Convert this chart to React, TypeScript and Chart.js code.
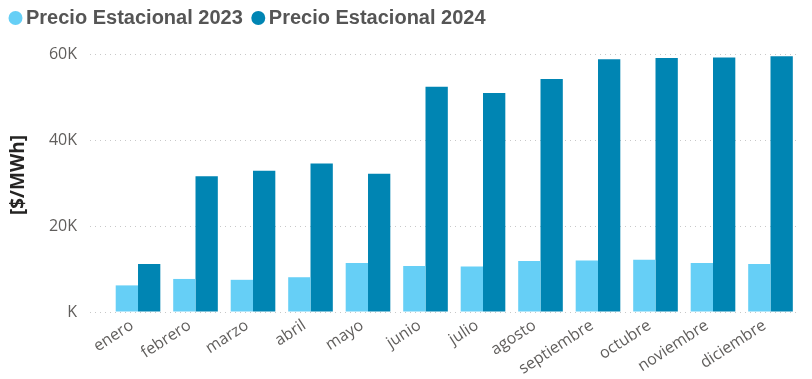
import React, { useEffect, useRef } from 'react';
import { Chart, registerables } from 'chart.js';

Chart.register(...registerables);

const months = ['enero', 'febrero', 'marzo', 'abril', 'mayo', 'junio', 'julio', 'agosto', 'septiembre', 'octubre', 'noviembre', 'diciembre'];
const precio2023 = [6200, 7700, 7500, 8100, 11400, 10700, 10600, 11900, 12000, 12200, 11400, 11200];
const precio2024 = [11200, 31600, 32900, 34600, 32200, 52500, 51000, 54300, 58900, 59200, 59300, 59600];
const seriesNames = ['Precio Estacional 2023', 'Precio Estacional 2024'];
const yTickValues = [0, 20000, 40000, 60000];
const yTickLabels = ['K', '20K', '40K', '60K'];
const yAxisTitle = '[$/MWh]';
const yMax = 63840;
const xMin = -0.835;
const xMax = 11.513;

const COLOR_2023 = '#66CFF6';
const COLOR_2024 = '#0085B3';
const TICK_COLOR = '#605E5C';

export default function App() {
  const ref = useRef<HTMLCanvasElement | null>(null);

  useEffect(() => {
    if (!ref.current) return;
    const chart = new Chart(ref.current, {
      type: 'bar',
      data: {
        datasets: [
          {
            label: seriesNames[0],
            data: precio2023.map((v, i) => ({ x: i, y: v })),
            backgroundColor: COLOR_2023,
            borderWidth: 0,
            categoryPercentage: 0.776,
            barPercentage: 1,
          },
          {
            label: seriesNames[1],
            data: precio2024.map((v, i) => ({ x: i, y: v })),
            backgroundColor: COLOR_2024,
            borderWidth: 0,
            categoryPercentage: 0.776,
            barPercentage: 1,
          },
        ],
      },
      options: {
        animation: false,
        responsive: false,
        maintainAspectRatio: false,
        layout: { padding: { top: -7, right: 12, left: 0, bottom: 0 } },
        plugins: {
          tooltip: { enabled: false },
          legend: {
            position: 'top',
            align: 'start',
            labels: {
              usePointStyle: true,
              pointStyle: 'circle',
              boxWidth: 1,
              boxHeight: 9.9,
              padding: 15,
              color: '#555555',
              font: { family: 'Liberation Sans', weight: 'bold', size: 20 },
            },
          },
        },
        scales: {
          x: {
            type: 'linear',
            min: xMin,
            max: xMax,
            offset: false,
            grid: { display: false, drawTicks: false },
            border: { display: false },
            afterBuildTicks: (axis: any) => {
              axis.ticks = months.map((_, i) => ({ value: i }));
            },
            afterFit: (axis: any) => {
              axis.height = 67;
            },
            ticks: {
              autoSkip: false,
              minRotation: 33,
              maxRotation: 33,
              labelOffset: -6,
              padding: 4,
              color: TICK_COLOR,
              font: { family: 'Open Sans', size: 16 },
              callback: (_v: any, i: number) => months[i],
            },
          },
          y: {
            min: 0,
            max: yMax,
            afterBuildTicks: (axis: any) => {
              axis.ticks = yTickValues.map((v) => ({ value: v }));
            },
            afterFit: (axis: any) => {
              axis.width = 90;
            },
            grid: { color: '#c8c8c8', drawTicks: false, lineWidth: 1 },
            border: { display: false, dash: [1, 4] },
            ticks: {
              padding: 13,
              color: TICK_COLOR,
              font: { family: 'Open Sans', size: 16 },
              callback: (_v: any, i: number) => yTickLabels[i],
            },
            title: {
              display: true,
              text: yAxisTitle,
              color: '#252423',
              font: { family: 'Open Sans', weight: 'bold', size: 19 },
              padding: { top: 7, bottom: 0 },
            },
          },
        },
      },
    });
    return () => chart.destroy();
  }, []);

  return (
    <div style={{ position: 'absolute', left: 0, top: 0, width: 812, height: 379, background: '#fff' }}>
      <canvas ref={ref} width={812} height={379} />
    </div>
  );
}
